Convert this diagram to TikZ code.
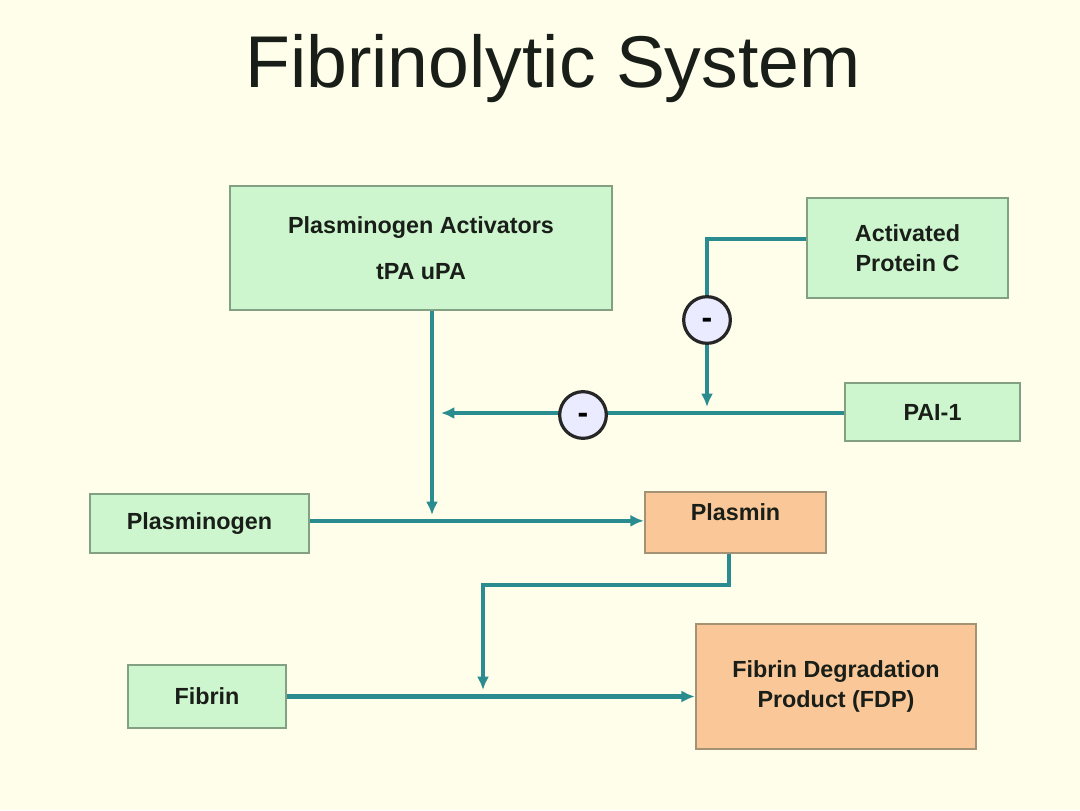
\documentclass[tikz,border=0pt]{standalone}
\usepackage{fontspec}
\setmainfont{Liberation Sans}
\usetikzlibrary{arrows.meta}
\definecolor{bgc}{RGB}{254,254,234}
\definecolor{gfill}{RGB}{206,246,206}
\definecolor{gdraw}{RGB}{130,160,130}
\definecolor{ofill}{RGB}{250,200,152}
\definecolor{odraw}{RGB}{165,145,115}
\definecolor{teal}{RGB}{42,140,142}
\definecolor{ink}{RGB}{25,30,25}
\tikzset{
  lbl/.style={font=\fontsize{17.5}{21}\selectfont\bfseries, text=ink, align=center},
  gbox/.style={lbl, draw=gdraw, fill=gfill, line width=1.8pt, inner sep=0pt},
  obox/.style={lbl, draw=odraw, fill=ofill, line width=1.8pt, inner sep=0pt},
  conn/.style={draw=teal, line width=3.2pt, -{Latex[length=10pt,width=9pt]}},
  minus/.style={circle, draw=black!85, line width=2.4pt, fill=white!92!blue, minimum size=35pt, inner sep=0pt, font=\fontsize{24}{24}\selectfont\bfseries, text height=13.2pt, text depth=0pt},
}
\begin{document}
\begin{tikzpicture}[x=0.75pt, y=-0.75pt]
\fill[bgc] (0,0) rectangle (1080,810);
\useasboundingbox (0,0) rectangle (1080,810);
\node[font=\fontsize{55}{60}\selectfont, text=ink] (title) at (553,69) {Fibrinolytic System};

\node[gbox, minimum width=286.5pt, minimum height=93pt] (pa) at (421,248) {Plasminogen Activators\\[14pt]tPA uPA};
\node[gbox, minimum width=150.75pt, minimum height=75pt] (apc) at (907.5,248) {Activated\\[1pt]Protein C};
\node[gbox, minimum width=131.25pt, minimum height=43.5pt] (pai) at (932.5,412) {PAI-1};
\node[gbox, minimum width=164.25pt, minimum height=44.25pt] (plg) at (199.5,523.5) {Plasminogen};
\node[obox, minimum width=135.75pt, minimum height=45.75pt, label={[lbl, yshift=7.5pt]center:Plasmin}] (plasmin) at (735.5,522.5) {};
\node[gbox, minimum width=118.5pt, minimum height=47.25pt] (fib) at (207,696.5) {Fibrin};
\node[obox, minimum width=210pt, minimum height=93.75pt] (fdp) at (836,686.5) {Fibrin Degradation\\[1pt]Product (FDP)};

\coordinate (j1) at (707,407);
\coordinate (j2) at (441,413);
\coordinate (j3) at (432,515);
\coordinate (k) at (729,585);
\coordinate (j4) at (483,690);

\draw[conn] ([yshift=7pt]apc.west) -| (j1);
\draw[conn] (pai.west |- j2) -- (j2);
\draw[conn] (pa.south -| j3) -- (j3);
\draw[conn] ([yshift=2pt]plg.east) -- ([yshift=2pt]plg.east -| plasmin.west);
\draw[conn] (plasmin.south -| k) -- (k) -| (j4);
\draw[conn] (fib.east) -- (fib.east -| fdp.west);

\node[minus] (m1) at (707,320) {-};
\node[minus] (m2) at (583,415) {-};
\end{tikzpicture}
\end{document}
